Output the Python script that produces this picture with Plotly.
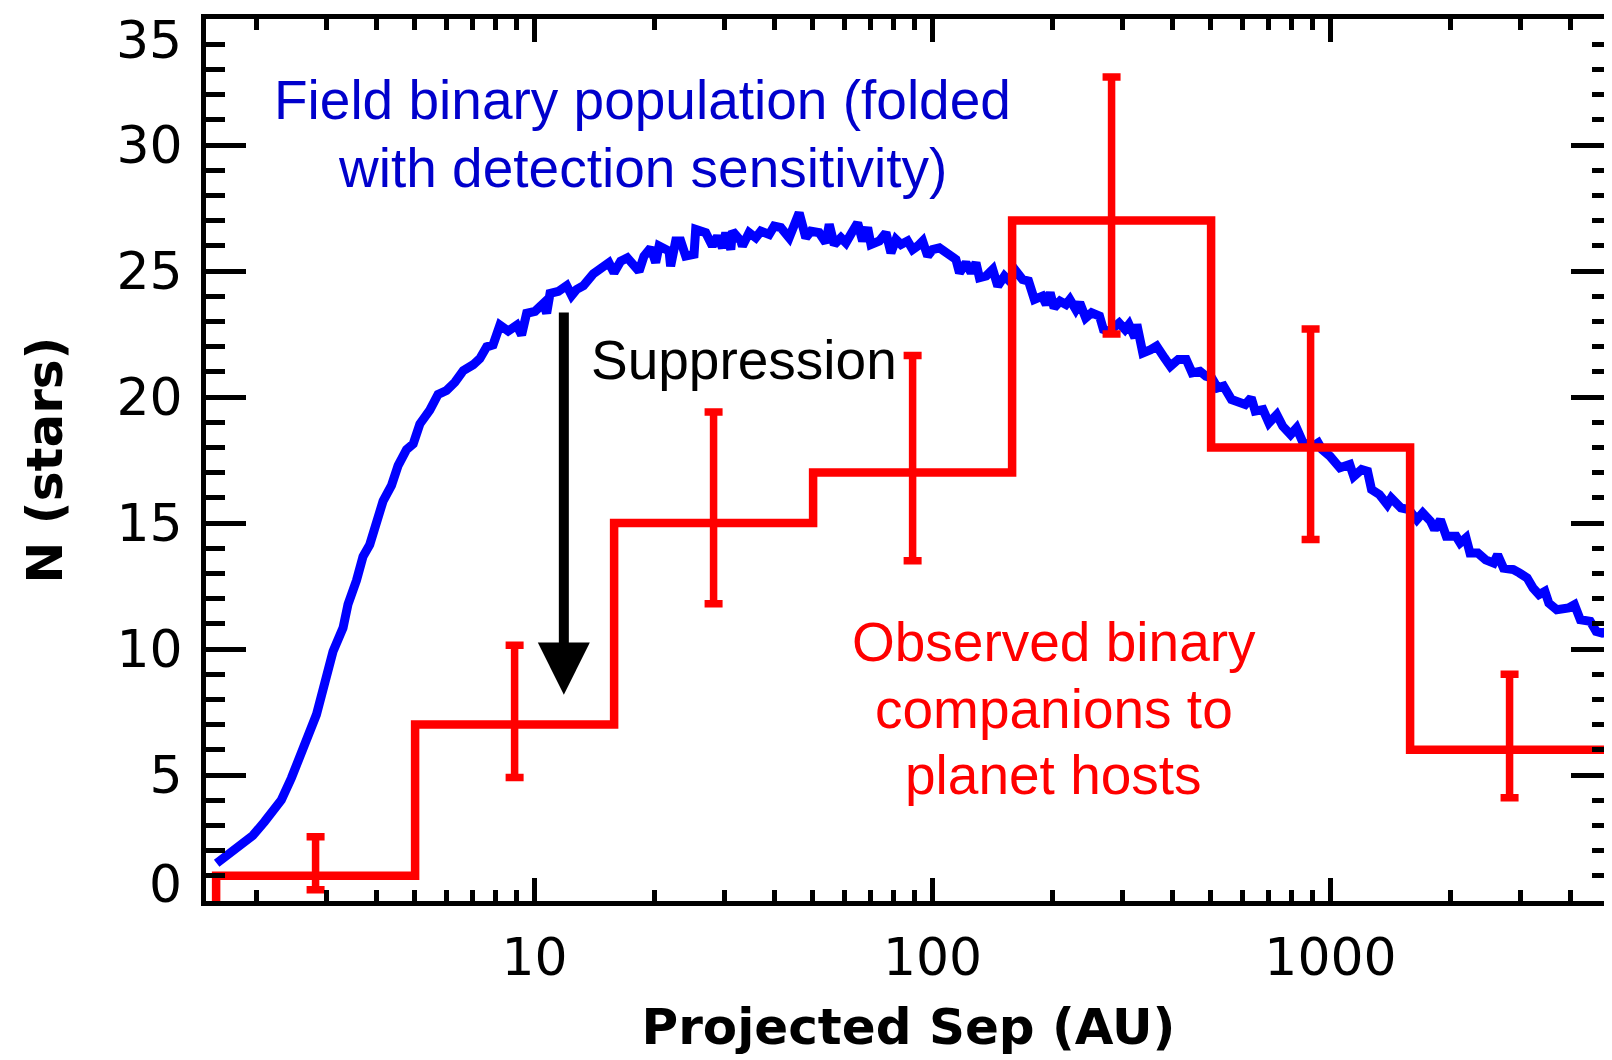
import plotly.graph_objects as go

# ---------------- data ----------------
# Field binary population (folded with detection sensitivity) - blue curve
field_sep_au = [
    1.59, 1.780, 1.960, 2.098, 2.224, 2.312, 2.450, 2.570, 2.696, 2.831,
    2.971, 3.117, 3.303, 3.400, 3.570, 3.708, 3.855, 4.009, 4.164, 4.372,
    4.542, 4.769, 4.957, 5.151, 5.457, 5.723, 6.009, 6.306, 6.623, 7.011,
    7.287, 7.583, 7.869, 8.186, 8.585, 9.024, 9.280, 9.556, 10.03, 10.52,
    10.73, 10.94, 11.48, 12.05, 12.40, 12.76, 13.27, 14.05, 14.76, 15.38,
    15.84, 16.46, 17.11, 17.95, 18.31, 18.84, 19.59, 20.16, 20.56, 21.78,
    21.98, 22.63, 23.30, 23.98, 25.17, 25.41, 26.93, 27.98, 28.81, 29.66,
    30.24, 31.13, 31.43, 32.99, 33.30, 34.61, 35.97, 37.04, 38.87, 40.01,
    41.59, 43.64, 44.92, 46.24, 48.05, 49.47, 51.91, 53.96, 55.02, 56.64,
    58.87, 60.60, 62.99, 64.85, 66.74, 68.71, 70.05, 73.51, 76.39, 78.63,
    80.95, 83.34, 86.59, 89.14, 91.77, 94.46, 97.26, 100.1, 104.1, 108.1,
    111.3, 114.5, 116.9, 121.4, 125.0, 128.6, 131.2, 136.4, 141.7, 145.9,
    151.6, 156.1, 162.2, 168.4, 174.3, 180.3, 188.7, 193.1, 197.5, 202.1,
    209.1, 216.4, 221.4, 229.1, 234.4, 242.6, 251.0, 262.8, 268.8, 278.2,
    294.4, 304.6, 311.6, 322.5, 326.2, 337.6, 353.4, 365.7, 382.8, 396.0,
    414.5, 433.9, 449.0, 469.9, 486.3, 503.0, 520.6, 538.7, 564.0, 590.3,
    610.8, 632.1, 646.7, 676.8, 700.3, 733.0, 758.6, 794.0, 821.7, 850.2,
    890.0, 931.4, 952.8, 997.5, 1056, 1118, 1144, 1197, 1239, 1268,
    1327, 1389, 1421, 1503, 1574, 1648, 1705, 1784, 1826, 1889,
    1954, 2069, 2117, 2190, 2241, 2346, 2455, 2570, 2630, 2721,
    2880, 2981, 3120, 3229, 3341, 3457, 3537, 3703, 3964, 4102,
    4244, 4494, 4650, 4812, 4979, 5050,
]
field_n = [
    1.50, 2.05, 2.60, 3.15, 3.62, 4.01, 4.88, 5.66, 6.60, 7.39,
    8.65, 9.90, 10.84, 11.78, 12.72, 13.67, 14.14, 15.08, 15.87, 16.49,
    17.28, 17.91, 18.14, 18.93, 19.48, 20.10, 20.26, 20.58, 21.05, 21.28,
    21.52, 21.99, 22.07, 22.85, 22.62, 22.85, 22.46, 23.32, 23.40, 23.71,
    23.32, 24.11, 24.19, 24.42, 24.03, 24.27, 24.42, 24.89, 25.12, 25.33,
    24.93, 25.39, 25.52, 25.19, 24.99, 25.59, 25.92, 25.33, 25.99, 25.79,
    25.19, 26.19, 26.19, 25.59, 25.66, 26.65, 26.52, 25.99, 26.38, 25.92,
    26.52, 25.85, 26.58, 26.19, 25.99, 26.52, 26.32, 26.58, 26.45, 26.78,
    26.72, 26.32, 26.72, 27.31, 26.32, 26.58, 26.52, 26.12, 26.85, 26.05,
    26.32, 26.12, 26.58, 26.91, 26.19, 26.72, 26.05, 26.19, 26.52, 25.72,
    26.25, 26.05, 26.19, 25.85, 25.99, 26.19, 25.59, 25.85, 25.92, 25.72,
    25.59, 25.46, 24.93, 25.33, 24.93, 25.33, 24.73, 24.80, 25.06, 24.40,
    24.80, 24.60, 24.99, 24.66, 24.60, 23.87, 24.00, 23.67, 24.14, 23.54,
    23.80, 23.67, 23.87, 23.47, 23.74, 23.14, 23.34, 23.21, 22.68, 22.61,
    22.94, 22.68, 22.88, 22.35, 22.88, 21.75, 21.88, 22.02, 21.55, 21.22,
    21.49, 21.49, 20.96, 21.02, 20.83, 20.76, 20.36, 20.43, 19.90, 19.83,
    19.70, 19.97, 19.44, 19.50, 18.97, 19.30, 18.84, 18.51, 18.77, 18.24,
    17.98, 18.18, 17.91, 17.65, 17.19, 17.32, 16.85, 17.12, 17.05, 16.33,
    16.13, 15.73, 15.99, 15.60, 15.53, 15.13, 15.40, 15.07, 14.74, 15.13,
    14.47, 14.47, 14.21, 14.41, 13.81, 13.81, 13.54, 13.41, 13.74, 13.21,
    13.15, 13.02, 12.82, 12.42, 12.16, 12.29, 11.82, 11.56, 11.63, 11.76,
    11.16, 11.10, 10.70, 10.63, 10.70, 10.45,
]

# Observed binary companions to planet hosts - red histogram
bin_edges_au = [1.585, 5.012, 15.85, 50.12, 158.5, 501.2, 1585, 5012]
bin_centers_au = [2.818, 8.913, 28.18, 89.13, 281.8, 891.3, 2818]
observed_n = [1, 7, 15, 17, 27, 18, 6]
err_plus = [1.55, 3.15, 4.4, 4.65, 5.7, 4.7, 3.0]
err_minus = [0.55, 2.1, 3.2, 3.5, 4.5, 3.65, 1.9]

x_tick_vals = [10, 100, 1000]
x_tick_text = ["10", "100", "1000"]
x_minor_vals = [2, 3, 4, 5, 6, 7, 8, 9, 20, 30, 40, 50, 60, 70, 80, 90,
                200, 300, 400, 500, 600, 700, 800, 900, 2000, 3000, 4000]
y_tick_vals = [0, 5, 10, 15, 20, 25, 30, 35]
y_tick_text = ["0", "5", "10", "15", "20", "25", "30", "35"]

# ---------------- figure ----------------
BLUE = "#0000FF"
BLUE_TXT = "#0000CC"
RED = "#FF0000"
TICK_FONT = dict(family="DejaVu Sans", size=52, color="black")
TXT_FONT = "Liberation Sans"

fig = go.Figure()

fig.add_trace(go.Scatter(
    x=field_sep_au, y=field_n, mode="lines",
    line=dict(color=BLUE, width=9), showlegend=False, hoverinfo="skip",
))

# step histogram built from the bin edges and counts
step_x = [bin_edges_au[0]] + bin_edges_au + [bin_edges_au[-1]]
step_y = [0] + observed_n + [observed_n[-1], 0]
fig.add_trace(go.Scatter(
    x=step_x, y=step_y, mode="lines", line=dict(color=RED, width=8.5, shape="hv"),
    showlegend=False, hoverinfo="skip",
))

fig.add_trace(go.Scatter(
    x=bin_centers_au, y=observed_n, mode="markers",
    marker=dict(size=1, color="rgba(0,0,0,0)"),
    error_y=dict(type="data", symmetric=False, array=err_plus, arrayminus=err_minus,
                 color=RED, thickness=7.5, width=9),
    showlegend=False, hoverinfo="skip",
))

# suppression arrow (shaft + head)
arrow_x = 11.85
fig.add_shape(type="line", xref="x", yref="y", x0=arrow_x, x1=arrow_x, y0=23.35, y1=10.0,
              line=dict(color="black", width=10))
fig.add_shape(type="path", xref="x", yref="y", xsizemode="pixel", xanchor=arrow_x,
              path="M -26,10.26 L 26,10.26 L 0,8.18 Z",
              fillcolor="black", line=dict(color="black", width=0))

# y tick labels for the end ticks are nudged inward (as in the original)
fig.add_annotation(xref="paper", yref="y", x=0, y=35, text=y_tick_text[-1], showarrow=False,
                   xanchor="right", yanchor="middle", xshift=-22, yshift=-21, font=TICK_FONT)
fig.add_annotation(xref="paper", yref="y", x=0, y=0, text=y_tick_text[0], showarrow=False,
                   xanchor="right", yanchor="middle", xshift=-22, yshift=17, font=TICK_FONT)


def lbl(x_log, y, text, color):
    fig.add_annotation(xref="x", yref="y", x=x_log, y=y, text=text, showarrow=False,
                       xanchor="center", yanchor="middle",
                       font=dict(family=TXT_FONT, size=55, color=color))


lbl(1.2705, 31.8, "Field binary population (folded", BLUE_TXT)
lbl(1.2705, 29.1, "with detection sensitivity)", BLUE_TXT)
lbl(1.5253, 21.45, "Suppression", "black")
lbl(2.3052, 10.26, "Observed binary", RED)
lbl(2.3052, 7.63, "companions to", RED)
lbl(2.3052, 4.99, "planet hosts", RED)

fig.update_xaxes(
    type="log", range=[0.1746, 3.7048],
    tickvals=x_tick_vals, ticktext=x_tick_text,
    ticks="inside", ticklen=23, tickwidth=5, tickcolor="black",
    minor=dict(tickvals=x_minor_vals, ticks="inside", ticklen=11, tickwidth=5, tickcolor="black"),
    showline=True, linecolor="black", linewidth=5, mirror="allticks",
    showgrid=False, zeroline=False,
    tickfont=TICK_FONT, ticklabelstandoff=7,
    title=dict(text="Projected Sep (AU)", standoff=24,
               font=dict(family="DejaVu Sans", size=50, color="black", weight="bold")),
)
fig.update_yaxes(
    range=[0, 35],
    tickvals=y_tick_vals, ticktext=[""] + y_tick_text[1:-1] + [""],
    ticks="inside", ticklen=40, tickwidth=5, tickcolor="black",
    minor=dict(dtick=1, ticks="inside", ticklen=19, tickwidth=5, tickcolor="black"),
    showline=True, linecolor="black", linewidth=5, mirror="allticks",
    showgrid=False, zeroline=False,
    tickfont=TICK_FONT, ticklabelstandoff=8,
    title=dict(text="N (stars)", standoff=39,
               font=dict(family="DejaVu Sans", size=50, color="black", weight="bold")),
)

fig.update_layout(
    width=1612, height=1060,
    margin=dict(l=198, r=9, t=11, b=167, autoexpand=False),
    paper_bgcolor="white", plot_bgcolor="white",
    showlegend=False,
)

fig.write_html("out.html")
